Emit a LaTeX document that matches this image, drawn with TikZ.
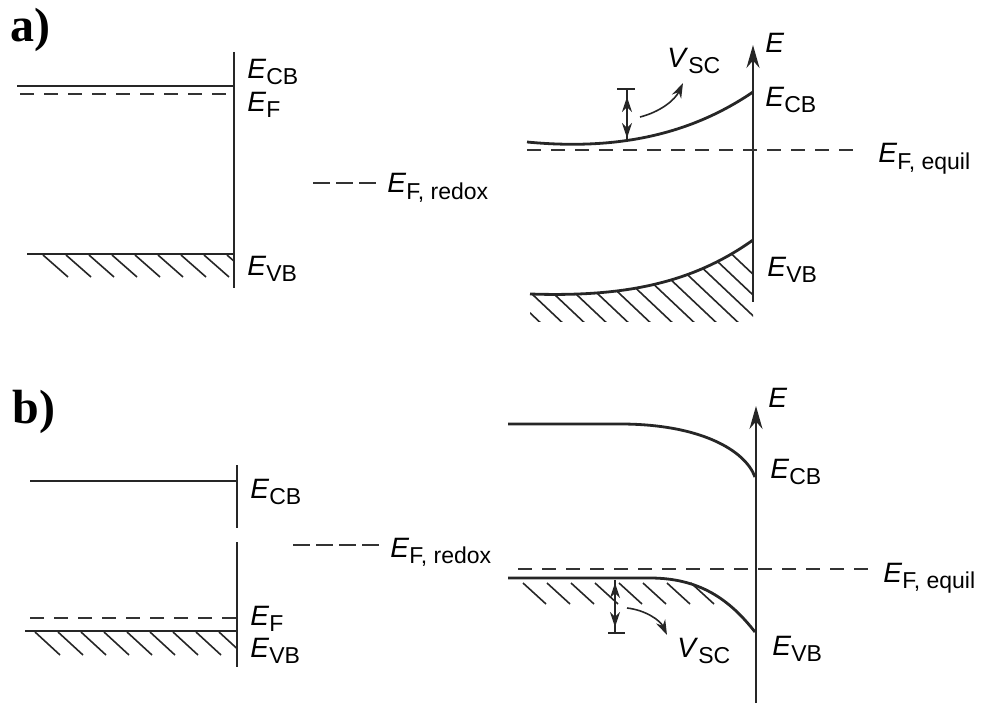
\documentclass[tikz,border=0pt]{standalone}
\usepackage{fontspec}
\setmainfont{Liberation Sans}
\newfontfamily\panelfont{Liberation Serif}
\usetikzlibrary{arrows.meta}
\newcommand{\Lsub}[2]{\textit{#1}\raisebox{-3pt}{\fontsize{11.5}{12}\selectfont #2}}

\begin{document}
\begin{tikzpicture}[x=0.5pt,y=-0.5pt,
  band/.style={line width=1.4pt, black!85},
  level/.style={line width=0.9pt, black!80, dash pattern=on 7pt off 5pt},
  redox/.style={line width=0.9pt, black!80, dash pattern=on 8.5pt off 3pt},
  axis/.style={line width=1pt, black!85},
  eaxis/.style={axis, -{Stealth[length=11.5pt,width=6.5pt]}},
  hatch/.style={line width=0.8pt, black!85},
  arr/.style={line width=0.8pt, black!85, -{Stealth[length=7.5pt,width=5pt]}},
  dbl/.style={line width=0.8pt, black!85, {Stealth[length=7.5pt,width=5pt]}-{Stealth[length=7.5pt,width=5pt]}},
  lab/.style={anchor=base west, inner sep=0pt, font=\fontsize{14}{16}\selectfont},
  panel/.style={anchor=base west, inner sep=0pt, font=\panelfont\bfseries\fontsize{24}{26}\selectfont}
]
\useasboundingbox (0,0) rectangle (1003,722);

% ---- a) electrode before contact
\node[panel] (pa) at (10,42) {a)};
\draw[axis] (234,52) -- (234,288);
\draw[band] (17,86) -- (234,86);
\draw[level] (20,94) -- (234,94);
\draw[band] (27,254) -- (234,254);
\begin{scope}
  \clip (27,254) rectangle (234,290);
  \foreach \x in {43,66,...,227} \draw[hatch] (\x,255) -- ++(25,22);
\end{scope}
\node[lab] (aCB) at (247,79) {\Lsub{E}{CB}};
\node[lab] (aF) at (247,112) {\Lsub{E}{F}};
\node[lab] (aVB) at (247,276) {\Lsub{E}{VB}};

% redox level
\draw[redox] (313,183) -- (378,183);
\node[lab] (aRedox) at (387,193) {\Lsub{E}{F, redox}};

% ---- a) in equilibrium
\draw[eaxis] (753,302) -- (753,45);
\node[lab] (aE) at (765,53) {\textit{E}};
\draw[band] (527,142) .. controls (630,152) and (700,128) .. (753,92);
\draw[band] (530,294) .. controls (620,297) and (690,285) .. (753,240);
\begin{scope}
  \clip (530,294) .. controls (620,297) and (690,285) .. (753,240)
        -- (753,322) -- (530,322) -- cycle;
  \foreach \x in {510,532,...,780} \draw[hatch] (\x-70,228) -- (\x+36,328);
\end{scope}
\draw[level] (527,150) -- (860,150);
\draw[hatch] (617,89) -- (635,89);
\draw[hatch] (627,89) -- (627,140);
\draw[dbl] (627,97) -- (627,138);
\draw[arr] (640,117) .. controls (660,112) and (675,100) .. (683,83);
\node[lab] (aVsc) at (667,68) {\Lsub{V}{SC}};
\node[lab] (aCB2) at (765,107) {\Lsub{E}{CB}};
\node[lab] (aEq) at (878,163) {\Lsub{E}{F, equil}};
\node[lab] (aVB2) at (767,277) {\Lsub{E}{VB}};

% ---- b) electrode before contact
\node[panel] (pb) at (12,423) {b)};
\draw[axis] (237,465) -- (237,528);
\draw[axis] (237,542) -- (237,667);
\draw[band] (30,481) -- (237,481);
\draw[level] (30,618) -- (237,618);
\draw[band] (25,631) -- (237,631);
\begin{scope}
  \clip (25,631) rectangle (237,660);
  \foreach \x in {35,58,...,219} \draw[hatch] (\x,632) -- ++(25,23);
\end{scope}
\node[lab] (bCB) at (250,498) {\Lsub{E}{CB}};
\node[lab] (bF) at (250,625) {\Lsub{E}{F}};
\node[lab] (bVB) at (250,657) {\Lsub{E}{VB}};

% redox level
\draw[redox] (293,545) -- (380,545);
\node[lab] (bRedox) at (390,557) {\Lsub{E}{F, redox}};

% ---- b) in equilibrium
\draw[eaxis] (756,703) -- (756,406);
\node[lab] (bE) at (768,408) {\textit{E}};
\draw[band] (508,424) -- (620,424) .. controls (700,424) and (745,450) .. (755,477);
\draw[band] (508,578) -- (650,578) .. controls (700,578) and (730,600) .. (755,632);
\foreach \x in {523,547,...,691} \draw[hatch] (\x,583) -- ++(23,21);
\draw[level] (518,569) -- (873,569);
\draw[hatch] (608,633) -- (625,633);
\draw[hatch] (615,580) -- (615,633);
\draw[dbl] (615,583) -- (615,627);
\draw[arr] (627,608) .. controls (645,610) and (660,620) .. (667,635);
\node[lab] (bVsc) at (677,657) {\Lsub{V}{SC}};
\node[lab] (bCB2) at (770,478) {\Lsub{E}{CB}};
\node[lab] (bEq) at (883,582) {\Lsub{E}{F, equil}};
\node[lab] (bVB2) at (772,655) {\Lsub{E}{VB}};
\end{tikzpicture}
\end{document}
